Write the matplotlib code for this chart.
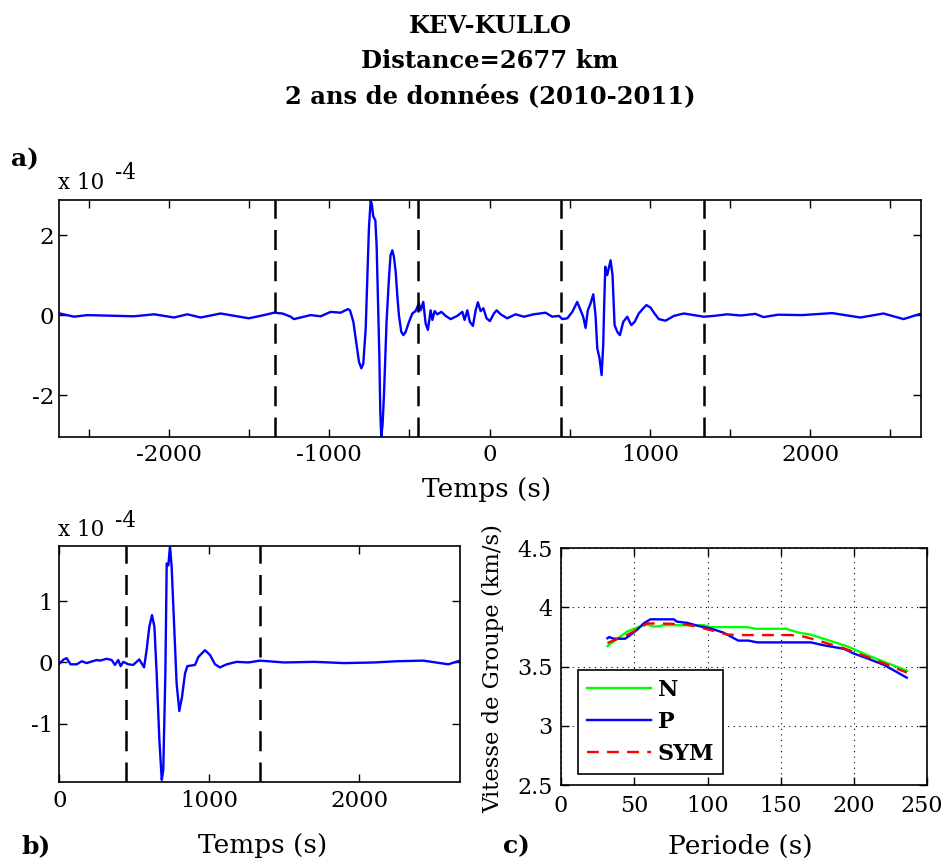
import numpy as np
import matplotlib
matplotlib.use("Agg")
import matplotlib.pyplot as plt
from matplotlib.ticker import FixedLocator, FuncFormatter
from matplotlib.transforms import ScaledTranslation

plt.rcParams['font.family'] = ['DejaVu Serif']
plt.rcParams['axes.unicode_minus'] = False

# a) full correlation trace (time in s, amplitude x 1e-4)
t_full = [-2681, -2593, -2510, -2219, -2094, -1969, -1886, -1803, -1678, -1502, -1408,
          -1345, -1293, -1241, -1221, -1190, -1117, -1054, -992, -930, -884, -871,
          -850, -830, -815, -800, -788, -773, -763, -753, -742, -734, -726, -713,
          -705, -697, -688, -682, -676, -668, -659, -643, -628, -618, -607, -597,
          -586, -576, -566, -551, -538, -524, -503, -482, -462, -441, -430, -414,
          -399, -385, -368, -357, -343, -326, -301, -274, -243, -202, -170, -156,
          -139, -123, -104, -87, -73, -56, -39, -19, 2, 27, 44, 69, 110, 162, 214,
          276, 349, 391, 433, 453, 485, 516, 547, 568, 584, 599, 613, 630, 647, 661,
          672, 686, 699, 709, 715, 722, 734, 755, 767, 774, 780, 797, 813, 834, 859,
          884, 905, 931, 959, 979, 1004, 1029, 1056, 1098, 1150, 1212, 1275, 1337,
          1399, 1483, 1566, 1659, 1709, 1800, 1950, 2138, 2314, 2458, 2583, 2695]
a_full = [0.04, -0.04, 0.0, -0.03, 0.02, -0.06, 0.02, -0.06, 0.04, -0.08, 0.0,
          0.06, 0.04, -0.04, -0.10, -0.07, 0.0, -0.03, 0.08, 0.06, 0.15, 0.12,
          -0.17, -0.75, -1.17, -1.33, -1.21, -0.33, 0.92, 2.17, 2.87, 2.75, 2.47, 2.37,
          1.75, 0.50, -1.00, -2.42, -3.04, -2.75, -2.00, -0.17, 0.92, 1.50, 1.62, 1.46,
          1.08, 0.50, 0.0, -0.42, -0.50, -0.42, -0.17, 0.04, 0.10, 0.29, 0.12, 0.33,
          -0.21, -0.37, 0.12, -0.12, 0.10, 0.02, 0.08, -0.02, -0.10, -0.02, 0.08, -0.12,
          0.12, -0.17, -0.27, 0.12, 0.32, 0.10, 0.17, -0.08, -0.15, 0.04, 0.12, 0.02,
          -0.08, 0.02, -0.04, 0.02, 0.06, -0.04, -0.02, -0.10, -0.08, 0.08, 0.33, 0.12,
          -0.04, -0.32, 0.12, 0.29, 0.52, 0.0, -0.83, -1.08, -1.50, -0.75, 0.25, 1.21,
          1.00, 1.37, 1.00, 0.33, -0.25, -0.42, -0.50, -0.17, -0.04, -0.25, -0.17, 0.04,
          0.17, 0.25, 0.19, 0.04, -0.10, -0.14, -0.02, 0.04, 0.0, -0.04, -0.02, 0.02,
          -0.01, 0.03, -0.05, 0.01, 0.0, 0.05, -0.06, 0.04, -0.10, 0.04]

# b) symmetric (positive lag) trace
t_sym = [0, 30, 49, 75, 116, 150, 182, 249, 271, 316, 349, 371, 393, 409, 427, 460,
         493, 533, 565, 582, 600, 618, 634, 649, 667, 683, 693, 707, 716, 727, 738,
         749, 765, 782, 800, 818, 838, 853, 905, 927, 971, 1005, 1038, 1071, 1116,
         1182, 1260, 1338, 1500, 1700, 1900, 2100, 2250, 2427, 2593, 2671]
a_sym = [-0.02, 0.05, 0.07, -0.03, -0.03, 0.02, -0.01, 0.04, 0.03, 0.06, 0.04, -0.04,
         0.04, -0.06, 0.01, -0.03, -0.04, 0.05, -0.08, 0.20, 0.58, 0.77, 0.58, -0.18,
         -1.26, -1.91, -1.75, -0.18, 1.61, 1.58, 1.90, 1.55, 0.63, -0.34, -0.79, -0.56,
         -0.18, -0.06, -0.04, 0.09, 0.20, 0.12, -0.03, -0.08, -0.03, 0.01, 0.0, 0.03,
         0.0, 0.01, -0.01, 0.0, 0.02, 0.03, -0.03, 0.03]

# window limits (s)
windows = [-1340, -445, 445, 1340]

# c) group velocity dispersion
per_n = [31.7, 45, 51.7, 58.7, 62.8, 66.7, 70, 97.5, 102, 127, 132.9, 153.4,
         162.6, 170.5, 182, 195.7, 211.6, 236.2]
vel_n = [3.674, 3.795, 3.83, 3.857, 3.84, 3.84, 3.85, 3.85, 3.834, 3.834, 3.82,
         3.82, 3.787, 3.77, 3.725, 3.67, 3.584, 3.466]
per_p = [31.7, 33, 35.8, 43.8, 47.3, 51.8, 56.4, 61, 76.9, 79.2, 86, 95, 102, 111,
         118, 121, 128, 134, 170.5, 179.6, 193.3, 200, 209, 220.6, 236]
vel_p = [3.74, 3.75, 3.736, 3.736, 3.767, 3.81, 3.865, 3.90, 3.90, 3.88, 3.87,
         3.84, 3.823, 3.787, 3.74, 3.72, 3.72, 3.705, 3.705, 3.68, 3.65, 3.61, 3.57,
         3.514, 3.407]
per_s = [31.7, 45, 51.7, 58.7, 65.5, 83.7, 92.8, 97.5, 106.5, 113, 120, 156.8,
         166, 172.8, 193, 211.6, 236]
vel_s = [3.70, 3.767, 3.81, 3.865, 3.865, 3.86, 3.837, 3.823, 3.795, 3.772,
         3.767, 3.767, 3.753, 3.73, 3.655, 3.57, 3.45]

W, H = 947, 864
fig = plt.figure(figsize=(W / 100, H / 100), dpi=100)

def style(ax, xpad=5.5, ypad=3.5, size=16.5):
    ax.tick_params(direction='in', top=True, right=True, length=6, width=1,
                   labelsize=size)
    ax.tick_params(axis='x', pad=xpad)
    ax.tick_params(axis='y', pad=ypad)
    for s in ax.spines.values():
        s.set_linewidth(1.2)

def fx(px):
    return px / W

def fy(py):
    return 1 - py / H

dash = (0, (8, 4.5))

fig.text(fx(490), fy(61), 'KEV-KULLO\nDistance=2677 km\n2 ans de données (2010-2011)',
         ha='center', va='center', multialignment='center', fontsize=17.5,
         fontweight='bold', linespacing=1.6)

# ---- a)
ax1 = fig.add_axes([fx(59.3), fy(436.7), 861.7 / W, 236.4 / H])
ax1.plot(t_full, a_full, color='b', lw=1.7)
for w in windows:
    ax1.axvline(w, color='k', ls=dash, lw=1.8)
ax1.set_xlim(-2685, 2692)
ax1.set_ylim(-3.04, 2.87)
ax1.xaxis.set_major_locator(FixedLocator(np.arange(-2500, 2501, 500)))
ax1.xaxis.set_major_formatter(FuncFormatter(lambda v, p: '%d' % v if v % 1000 == 0 else ''))
ax1.set_yticks([-2, 0, 2])
style(ax1)
fig.text(fx(486.5), fy(490), 'Temps (s)', ha='center', va='center', fontsize=19)
fig.text(fx(58), fy(183), 'x 10', ha='left', va='center', fontsize=15.5)
fig.text(fx(115), fy(173), '-4', ha='left', va='center', fontsize=15.5)
fig.text(fx(11), fy(159), 'a)', ha='left', va='center', fontsize=18, fontweight='bold')

# ---- b)
ax2 = fig.add_axes([fx(59.3), fy(781.7), 401 / W, 236 / H])
ax2.plot(t_sym, a_sym, color='b', lw=1.7)
for w in windows[2:]:
    ax2.axvline(w, color='k', ls=dash, lw=1.8)
ax2.set_xlim(0, 2673)
ax2.set_ylim(-1.94, 1.90)
ax2.set_xticks([0, 1000, 2000])
ax2.set_yticks([-1, 0, 1])
style(ax2, xpad=6, ypad=4.5)
fig.text(fx(262.5), fy(846), 'Temps (s)', ha='center', va='center', fontsize=19)
fig.text(fx(58), fy(529.5), 'x 10', ha='left', va='center', fontsize=15.5)
fig.text(fx(115), fy(521), '-4', ha='left', va='center', fontsize=15.5)
fig.text(fx(21), fy(846), 'b)', ha='left', va='center', fontsize=18, fontweight='bold')

# ---- c)
ax3 = fig.add_axes([fx(561), fy(785), 366.3 / W, 236.7 / H])
ax3.plot(per_n, vel_n, color=(0, 1, 0), lw=1.7, label='N')
ax3.plot(per_p, vel_p, color='b', lw=1.7, label='P')
ax3.plot(per_s, vel_s, color='r', lw=1.7, ls=(0, (5, 3.5)), label='SYM')
ax3.set_xlim(0, 250)
ax3.set_ylim(2.5, 4.5)
ax3.set_xticks([0, 50, 100, 150, 200, 250])
ax3.set_yticks([2.5, 3, 3.5, 4, 4.5])
ax3.set_yticklabels(['2.5', '3', '3.5', '4', '4.5'])
ax3.grid(True, ls=(0, (1, 4)), color='k', lw=0.8)
style(ax3, xpad=7, ypad=6, size=16)
# MATLAB nudges the last x label inside the figure
last = ax3.get_xticklabels()[-1]
last.set_transform(last.get_transform() + ScaledTranslation(-6 / 100, 0, fig.dpi_scale_trans))
ax3.set_ylabel('Vitesse de Groupe (km/s)', fontsize=16.3, va='center')
ax3.yaxis.set_label_coords(-0.186, 0.494)
leg = ax3.legend(loc='lower left', bbox_to_anchor=(0.046, 0.046), borderaxespad=0,
                 fancybox=False, edgecolor='k', framealpha=1, handlelength=2.9,
                 handletextpad=0.3, prop={'weight': 'bold', 'size': 16},
                 labelspacing=0.45, borderpad=0.4)
leg.get_frame().set_linewidth(1.2)
fig.text(fx(740), fy(846), 'Periode (s)', ha='center', va='center', fontsize=19)
fig.text(fx(503), fy(846), 'c)', ha='left', va='center', fontsize=18, fontweight='bold')

fig.savefig('out.png', dpi=100)
